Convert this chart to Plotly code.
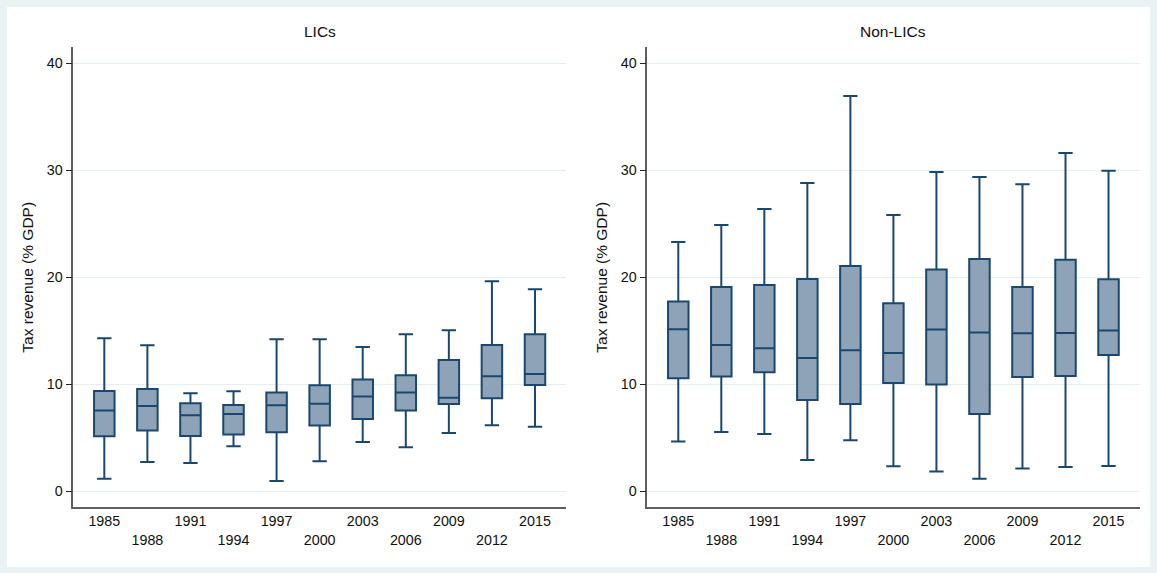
import plotly.graph_objects as go

W, H = 1157, 573

years = ["1985", "1988", "1991", "1994", "1997", "2000", "2003", "2006", "2009", "2012", "2015"]

# LICs panel
lic_low = [1.18, 2.74, 2.65, 4.21, 0.97, 2.80, 4.61, 4.11, 5.45, 6.17, 6.04]
lic_q1 = [5.14, 5.67, 5.17, 5.30, 5.51, 6.14, 6.76, 7.54, 8.16, 8.69, 9.94]
lic_med = [7.54, 7.98, 7.10, 7.23, 8.04, 8.19, 8.85, 9.22, 8.75, 10.75, 10.97]
lic_q3 = [9.38, 9.56, 8.22, 8.07, 9.22, 9.91, 10.44, 10.84, 12.27, 13.68, 14.67]
lic_high = [14.30, 13.64, 9.16, 9.35, 14.21, 14.21, 13.49, 14.67, 15.05, 19.63, 18.88]

# Non-LICs panel
non_low = [4.64, 5.55, 5.36, 2.93, 4.77, 2.34, 1.84, 1.18, 2.12, 2.27, 2.37]
non_q1 = [10.56, 10.72, 11.12, 8.54, 8.16, 10.12, 9.97, 7.23, 10.69, 10.78, 12.74]
non_med = [15.14, 13.68, 13.36, 12.46, 13.18, 12.93, 15.11, 14.83, 14.77, 14.80, 15.02]
non_q3 = [17.73, 19.10, 19.28, 19.84, 21.06, 17.57, 20.72, 21.71, 19.10, 21.65, 19.81]
non_high = [23.30, 24.89, 26.39, 28.82, 36.95, 25.83, 29.84, 29.38, 28.69, 31.62, 29.97]

panel_titles = ["LICs", "Non-LICs"]
y_title = "Tax revenue (% GDP)"
y_ticks = [0, 10, 20, 30, 40]

FONT = "Liberation Sans, Arial, Helvetica, sans-serif"
NAVY = "#1A476F"
FILL = "rgb(142,163,183)"
GRID = "#E5EEF0"
BG = "#EAF2F3"
AXIS = "#5f5f5f"

pos = list(range(len(years)))
ticktext = [y if i % 2 == 0 else "\u00a0<br>" + y for i, y in enumerate(years)]

fig = go.Figure()

for k, (lo, q1, md, q3, hi) in enumerate([
    (lic_low, lic_q1, lic_med, lic_q3, lic_high),
    (non_low, non_q1, non_med, non_q3, non_high),
]):
    suffix = "" if k == 0 else "2"
    fig.add_trace(go.Box(
        x=pos, q1=q1, median=md, q3=q3, lowerfence=lo, upperfence=hi,
        boxpoints=False, width=0.476, whiskerwidth=0.7,
        fillcolor=FILL, line=dict(color=NAVY, width=2),
        xaxis="x" + suffix, yaxis="y" + suffix, showlegend=False,
    ))

xdom = [[73.3 / W, 566 / W], [647.3 / W, 1139.5 / W]]
ydom = [1 - 507.3 / H, 1 - 47.3 / H]

common_x = dict(
    range=[-0.72, 10.72], tickmode="array", tickvals=pos, ticktext=ticktext,
    showgrid=False, zeroline=False, showline=True, linecolor=AXIS, linewidth=1.5,
    ticks="", tickfont=dict(family=FONT, size=14.3, color="#111"),
    fixedrange=True,
)
common_y = dict(
    range=[-1.5, 41.5], tickmode="array", tickvals=y_ticks,
    showgrid=True, gridcolor=GRID, gridwidth=1, zeroline=False,
    showline=True, linecolor=AXIS, linewidth=1.5,
    ticks="outside", ticklen=6, tickcolor="#222", tickwidth=1,
    tickfont=dict(family=FONT, size=14.3, color="#111"),
    title=dict(text=y_title, font=dict(family=FONT, size=15.5, color="#111"), standoff=9),
    fixedrange=True,
)

fig.update_layout(
    width=W, height=H,
    margin=dict(l=0, r=0, t=0, b=0),
    paper_bgcolor=BG, plot_bgcolor="white",
    xaxis=dict(domain=xdom[0], anchor="y", **common_x),
    yaxis=dict(domain=ydom, anchor="x", **common_y),
    xaxis2=dict(domain=xdom[1], anchor="y2", **common_x),
    yaxis2=dict(domain=ydom, anchor="x2", **common_y),
    shapes=[dict(type="rect", xref="paper", yref="paper", layer="below",
                 x0=7 / W, x1=1150 / W, y0=1 - 567 / H, y1=1 - 7 / H,
                 fillcolor="white", line=dict(width=0))],
    annotations=[
        dict(text=panel_titles[0], xref="paper", yref="paper",
             x=(xdom[0][0] + xdom[0][1]) / 2, y=1 - 31 / H,
             xanchor="center", yanchor="middle",
             showarrow=False, font=dict(family=FONT, size=15.5, color="#111")),
        dict(text=panel_titles[1], xref="paper", yref="paper",
             x=(xdom[1][0] + xdom[1][1]) / 2, y=1 - 31 / H,
             xanchor="center", yanchor="middle",
             showarrow=False, font=dict(family=FONT, size=15.5, color="#111")),
    ],
)

fig.write_html("out.html")
